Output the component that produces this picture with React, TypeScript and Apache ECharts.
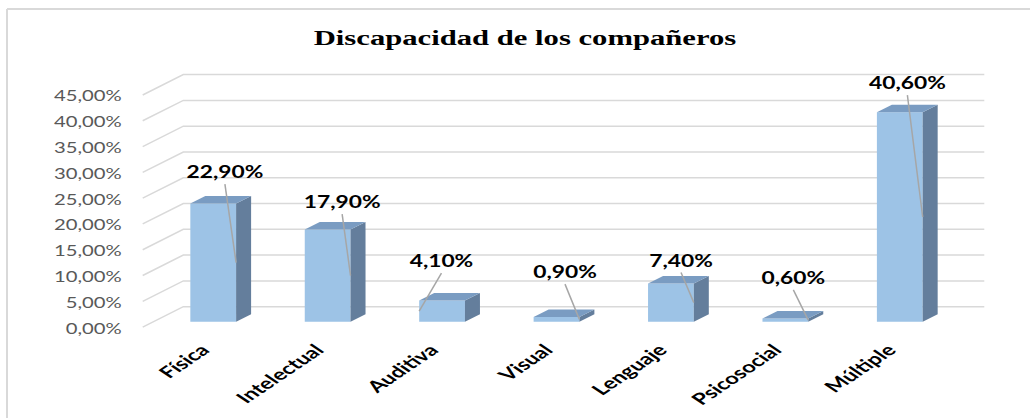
import React, { useEffect, useRef } from "react";
import * as echarts from "echarts";

const chartTitle = "Discapacidad de los compañeros";
const categories = ["Física", "Intelectual", "Auditiva", "Visual", "Lenguaje", "Psicosocial", "Múltiple"];
const values = [22.9, 17.9, 4.1, 0.9, 7.4, 0.6, 40.6];
const yTicks = [0, 5, 10, 15, 20, 25, 30, 35, 40, 45];

// layout only: data-label offsets (px) from the top-centre of each bar
const labelOffsets = [
  [11.7, -31.9],
  [14.5, -27.7],
  [-0.6, -39.9],
  [8.5, -45.4],
  [10.1, -23.5],
  [8.0, -41.3],
  [7.6, -29.6],
];

const FRONT = "#9DC3E6";
const SIDE = "#647E9C";
const TOP = "#7A9CC2";
const GRID = "#d9d9d9";

const fmt = (v: number) => v.toFixed(2).replace(".", ",") + "%";

export default function App() {
  const ref = useRef<HTMLDivElement>(null);
  useEffect(() => {
    if (!ref.current) return;
    const chart = echarts.init(ref.current, undefined, { renderer: "svg" });
    const option: any = {
      animation: false,
      backgroundColor: "#ffffff",
      grid: { left: 156, right: 73, top: 89.6, bottom: 96.3 },
      xAxis: {
        type: "category",
        data: categories,
        axisLine: { show: false },
        axisTick: { show: false },
        axisLabel: { show: false },
        splitLine: { show: false },
      },
      yAxis: {
        type: "value",
        min: 0,
        max: 45,
        interval: 5,
        axisLine: { show: false },
        axisTick: { show: false },
        axisLabel: { show: false },
        splitLine: { show: false },
      },
      graphic: [
        {
          type: "line",
          shape: { x1: 7, y1: 9, x2: 1030, y2: 9 },
          style: { stroke: "#d9d9d9", lineWidth: 2 },
        },
        {
          type: "line",
          shape: { x1: 7, y1: 9, x2: 7, y2: 418 },
          style: { stroke: "#d9d9d9", lineWidth: 2 },
        },
        {
          type: "text",
          x: 525,
          y: 38,
          scaleX: 1.46,
          style: {
            text: chartTitle,
            font: 'bold 21px "Liberation Serif"',
            fill: "#000000",
            align: "center",
            verticalAlign: "middle",
            textAlign: "center",
            textVerticalAlign: "middle",
          },
        },
      ],
      series: [
        {
          type: "custom",
          name: "grid",
          silent: true,
          z: 1,
          data: yTicks.map((t) => [0, t]),
          encode: { x: 0, y: 1 },
          renderItem: (params: any, api: any) => {
            const cs = params.coordSys;
            const v = api.value(1);
            const y = api.coord([0, v])[1];
            const x0 = cs.x;
            const x1 = cs.x + cs.width;
            return {
              type: "group",
              children: [
                {
                  type: "polyline",
                  shape: {
                    points: [
                      [x0 - 13.3, y + 5.4],
                      [x0 + 27.3, y - 15],
                      [x1 + 27.3, y - 15],
                    ],
                  },
                  style: { stroke: GRID, lineWidth: 1.5, fill: null },
                },
                {
                  type: "text",
                  x: x0 - 34.3,
                  y: y + 6,
                  scaleX: 1.35,
                  style: {
                    text: fmt(v),
                    font: '15px "Lato"',
                    fill: "#595959",
                    align: "right",
                    verticalAlign: "middle",
                    textAlign: "right",
                    textVerticalAlign: "middle",
                  },
                },
              ],
            };
          },
        },
        {
          type: "custom",
          name: "Discapacidad",
          z: 2,
          data: values.map((v, i) => [i, v]),
          encode: { x: 0, y: 1 },
          renderItem: (params: any, api: any) => {
            const i = api.value(0);
            const v = api.value(1);
            const top = api.coord([i, v]);
            const base = api.coord([i, 0]);
            const band = api.size([1, 0])[0];
            const w = band * 0.4;
            const cx = top[0];
            const xl = cx - w / 2;
            const xr = cx + w / 2;
            const ty = top[1];
            const by = base[1];
            const dx = 15;
            const dy = -7.5;
            const off = labelOffsets[i];
            const lx = cx + off[0];
            const ly = ty + off[1];
            const ex = off[0] < 0 ? xl : xr;
            const ey = (ty + by) / 2;
            return {
              type: "group",
              children: [
                {
                  type: "rect",
                  shape: { x: xl, y: ty, width: w, height: by - ty },
                  style: { fill: FRONT },
                },
                {
                  type: "polygon",
                  shape: { points: [[xr, ty], [xr + dx, ty + dy], [xr + dx, by + dy], [xr, by]] },
                  style: { fill: SIDE },
                },
                {
                  type: "polygon",
                  shape: { points: [[xl, ty], [xl + dx, ty + dy], [xr + dx, ty + dy], [xr, ty]] },
                  style: { fill: TOP },
                },
                {
                  type: "line",
                  shape: { x1: lx, y1: ly + 12.5, x2: ex, y2: ey },
                  style: { stroke: "#a6a6a6", lineWidth: 1.5 },
                },
                {
                  type: "text",
                  x: lx,
                  y: ly,
                  scaleX: 1.34,
                  style: {
                    text: fmt(v),
                    font: 'bold 17px "Lato"',
                    fill: "#000000",
                    align: "center",
                    verticalAlign: "middle",
                    textAlign: "center",
                    textVerticalAlign: "middle",
                  },
                },
                {
                  type: "group",
                  x: cx - 9,
                  y: by + 25,
                  scaleX: 1.48,
                  children: [
                    {
                      type: "text",
                      rotation: Math.PI / 4,
                      style: {
                        text: categories[i],
                        font: 'bold 16px "Lato"',
                        fill: "#000000",
                        align: "right",
                        verticalAlign: "middle",
                        textAlign: "right",
                        textVerticalAlign: "middle",
                      },
                    },
                  ],
                },
              ],
            };
          },
        },
      ],
    };
    chart.setOption(option);
    return () => chart.dispose();
  }, []);
  return (
    <div
      ref={ref}
      style={{ position: "fixed", left: 0, top: 0, width: 1030, height: 418, background: "#fff" }}
    />
  );
}
